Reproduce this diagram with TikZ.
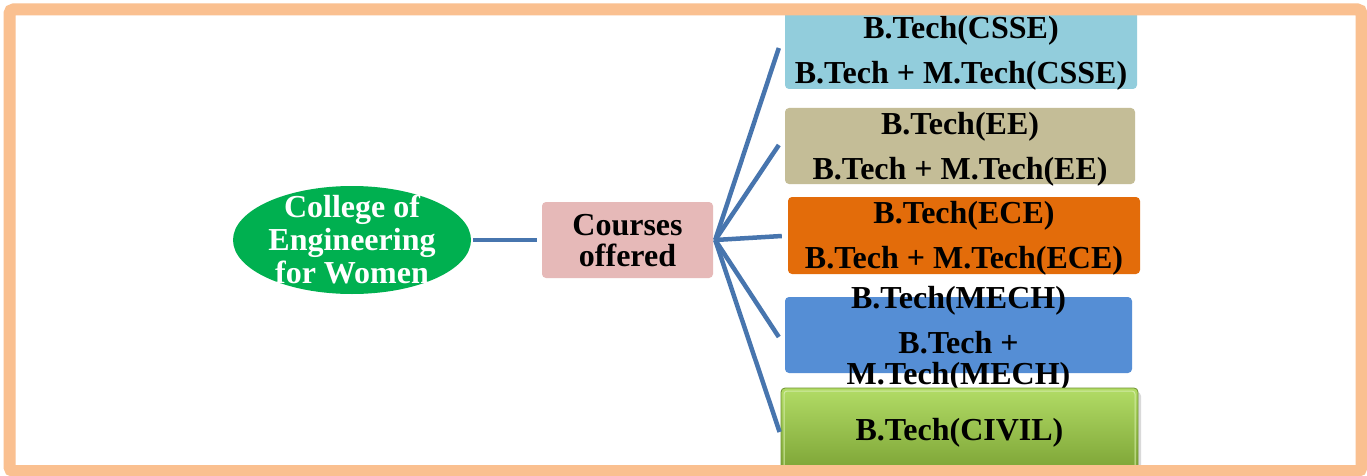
\documentclass[tikz,border=0pt]{standalone}
\usepackage{fontspec}
\setmainfont{Liberation Serif}
\usetikzlibrary{shapes.geometric}
\definecolor{frameC}{HTML}{FAC090}
\definecolor{linkC}{HTML}{4775AE}
\definecolor{csseC}{HTML}{92CDDC}
\definecolor{eeC}{HTML}{C4BD97}
\definecolor{eceC}{HTML}{E36C0A}
\definecolor{mechC}{HTML}{558ED5}
\definecolor{civilTop}{HTML}{B2DC66}
\definecolor{civilBot}{HTML}{7BA234}
\definecolor{civilEdge}{HTML}{6E9130}
\definecolor{courseC}{HTML}{E6B9B8}
\definecolor{rootC}{HTML}{00B050}
\tikzset{
  boxbase/.style={rectangle, rounded corners=4pt, inner sep=0pt, draw=none},
  boxtext/.style={align=center, inner sep=0pt, text=black, font=\bfseries\fontsize{32}{45}\selectfont},
  link/.style={draw=linkC, line width=4.5pt},
}
\begin{document}
\begin{tikzpicture}[x=1pt,y=-1pt]
\useasboundingbox[fill=white] (0,0) rectangle (1367,476);

% root ellipse
\node[ellipse, fill=rootC, minimum width=238pt, minimum height=108pt, inner sep=0pt] (root) at (352,240) {};
\node[align=center, inner sep=0pt, text=white, font=\bfseries\fontsize{32}{33}\selectfont] (rootT) at (352,239) {College of\\Engineering\\for Women};

% courses offered
\node[boxbase, fill=courseC, minimum width=171pt, minimum height=76pt] (courses) at (627.5,240) {};
\node[align=center, inner sep=0pt, font=\bfseries\fontsize{32}{31}\selectfont] (coursesT) at (627.5,240.5) {Courses\\offered};

% right boxes
\node[boxbase, fill=csseC, minimum width=352pt, minimum height=78pt] (csse) at (961,50) {};
\node[boxtext] (csseT) at (961,53.5) {B.Tech(CSSE)\\B.Tech + M.Tech(CSSE)};

\node[boxbase, fill=eeC, minimum width=350pt, minimum height=76pt] (ee) at (960,146) {};
\node[boxtext] (eeT) at (960,149.5) {B.Tech(EE)\\B.Tech + M.Tech(EE)};

\node[boxbase, fill=eceC, minimum width=352pt, minimum height=77pt] (ece) at (964,235.5) {};
\node[boxtext] (eceT) at (964,238) {B.Tech(ECE)\\B.Tech + M.Tech(ECE)};

\node[boxbase, fill=mechC, minimum width=347pt, minimum height=76pt] (mech) at (958.5,335) {};
\node[boxtext, font=\bfseries\fontsize{32}{31}\selectfont] (mechT) at (958.5,338.5) {B.Tech(MECH)\\[14pt]B.Tech +\\M.Tech(MECH)};

\fill[black!15, rounded corners=4pt] (784,392) rectangle (1141,478);
\node[boxbase, top color=civilTop, bottom color=civilBot, draw=civilEdge, line width=0.8pt, minimum width=357pt, minimum height=86pt] (civil) at (959.5,431) {};
\draw[white!40!civilTop, line width=1pt, rounded corners=3pt] (784,391) rectangle (1135,470);
\node[boxtext] (civilT) at (959.5,433) {B.Tech(CIVIL)};

% connectors
\draw[link] ([xshift=2pt]root.east) -- ([xshift=-5pt]courses.west);
\draw[link] ([xshift=2pt]courses.east) -- ([xshift=-6pt,yshift=2pt]csse.west);
\draw[link] ([xshift=2pt]courses.east) -- ([xshift=-6pt,yshift=1pt]ee.west);
\draw[link] ([xshift=2pt]courses.east) -- ([xshift=-6pt,yshift=-0.5pt]ece.west);
\draw[link] ([xshift=2pt]courses.east) -- ([xshift=-6pt,yshift=-2pt]mech.west);
\draw[link] ([xshift=2pt]courses.east) -- ([xshift=-1pt,yshift=-1pt]civil.west);

% outer frame
\draw[frameC, line width=12pt, rounded corners=4pt] (9.5,9.5) rectangle (1361.5,471);
\end{tikzpicture}
\end{document}
